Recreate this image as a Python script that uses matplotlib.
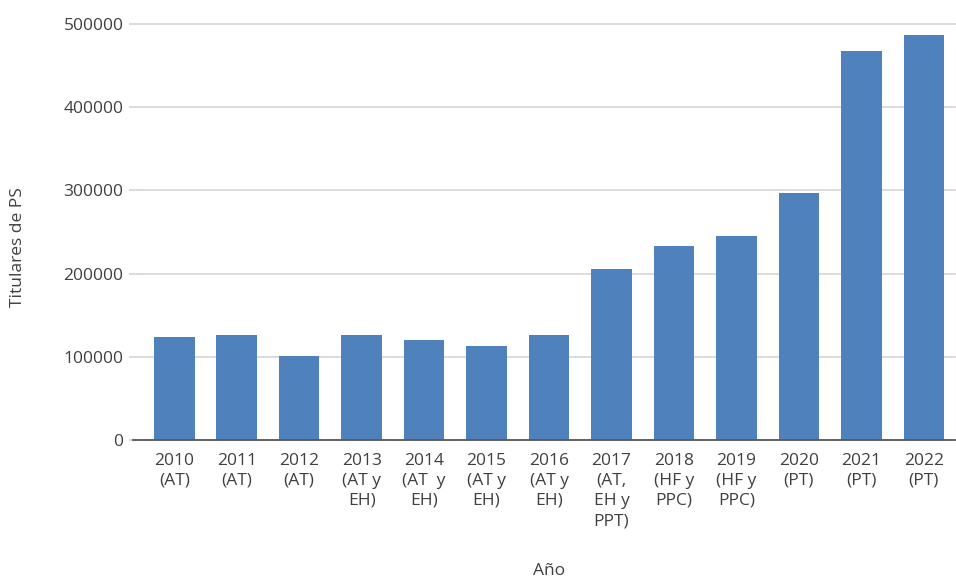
import matplotlib
matplotlib.use('Agg')
import numpy as np
from matplotlib import pyplot as plt

# Data
years = ['2010', '2011', '2012', '2013', '2014', '2015', '2016',
         '2017', '2018', '2019', '2020', '2021', '2022']
programs = ['(AT)', '(AT)', '(AT)', '(AT y\nEH)', '(AT  y\nEH)', '(AT y\nEH)', '(AT y\nEH)',
            '(AT,\nEH y\nPPT)', '(HF y\nPPC)', '(HF y\nPPC)', '(PT)', '(PT)', '(PT)']
titulares = [124000, 126000, 101000, 126000, 120000, 113000, 126000,
             206000, 233000, 245000, 297000, 467000, 487000]

plt.rcParams['font.family'] = ['Open Sans', 'DejaVu Sans']
text_color = '#404040'

fig = plt.figure(figsize=(9.56, 5.79), dpi=100)
ax = fig.add_axes([0.1496, 0.240, 0.8494, 0.7185])

x = np.arange(len(years))
ax.bar(x, titulares, width=0.65, color='#4F81BD', zorder=3)

ax.set_xlim(-0.5, len(years) - 0.5)
ax.set_ylim(0, 500000)
ax.set_yticks(np.arange(0, 500001, 100000))
ax.set_yticklabels([str(v) for v in range(0, 500001, 100000)], fontsize=12.5, color=text_color)

labels = [y + '\n' + p for y, p in zip(years, programs)]
ax.set_xticks(x)
ax.set_xticklabels(labels, fontsize=12.5, color=text_color, linespacing=1.35, va='top')

ax.grid(axis='y', color='#D9D9D9', linewidth=1.3, zorder=0)
for gl in ax.get_ygridlines():
    gl.set_clip_on(False)
ax.tick_params(axis='y', length=10, color='#D9D9D9', width=1.3, pad=4)
ax.tick_params(axis='x', length=0, pad=9)
for s in ['top', 'right', 'left']:
    ax.spines[s].set_visible(False)
ax.spines['bottom'].set_color('#595959')
ax.spines['bottom'].set_linewidth(1.3)
ax.spines['bottom'].set_bounds(-0.66, len(years) - 0.5)
ax.spines['bottom'].set_zorder(4)

fig.text(0.574, 0.0, 'Año', fontsize=12.5, color=text_color, ha='center', va='bottom')
fig.text(0.019, 0.573, 'Titulares de PS', fontsize=12.5, color=text_color,
         rotation=90, ha='center', va='center')

fig.savefig('out.png', dpi=100)
